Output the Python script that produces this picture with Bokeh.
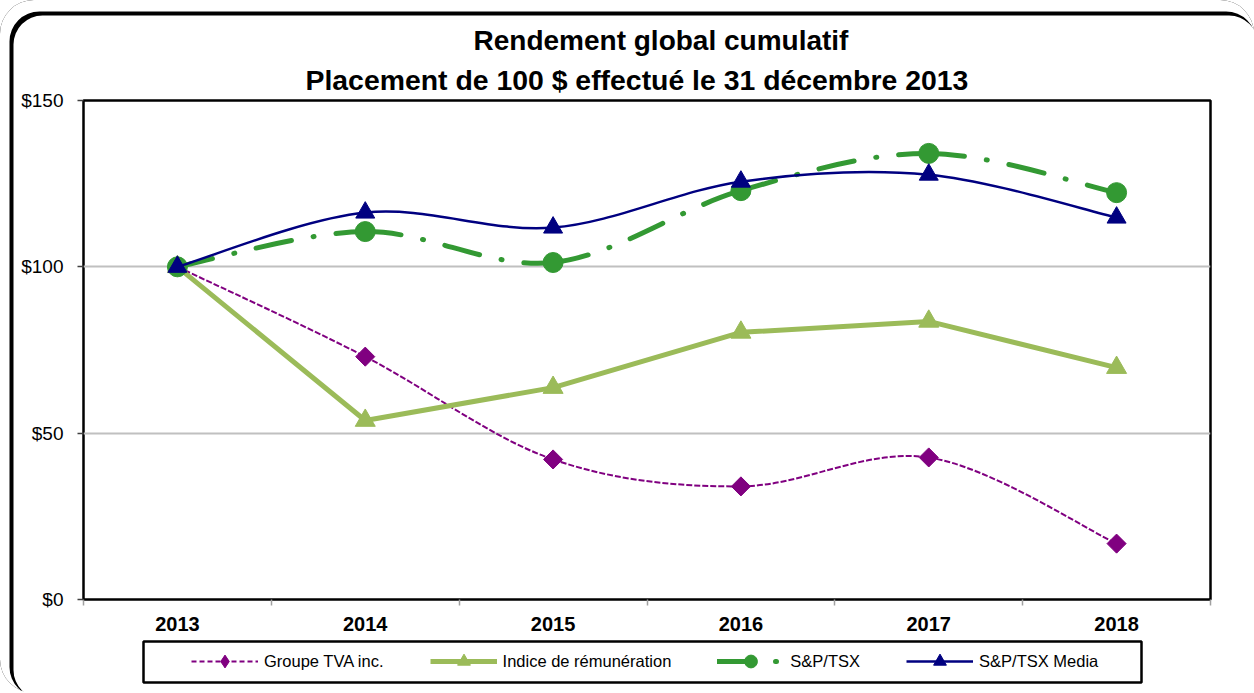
import numpy as np
from bokeh.plotting import figure
from bokeh.layouts import column
from bokeh.models import (Range1d, FixedTicker, NumeralTickFormatter, Title, Legend,
                          LegendItem, ColumnDataSource)
from bokeh.embed import file_html
from bokeh.resources import INLINE

# ---------------- data ----------------
years = ["2013", "2014", "2015", "2016", "2017", "2018"]
groupe_tva = [100, 73.0, 42.1, 34.0, 42.7, 16.8]
indice_remuneration = [100, 53.8, 63.7, 80.3, 83.6, 69.7]
sp_tsx = [100, 110.6, 101.3, 122.9, 134.1, 122.3]
sp_tsx_media = [100, 116.3, 111.8, 125.6, 127.7, 114.8]
y_ticks = [0, 50, 100, 150]
series_names = ["Groupe TVA inc.", "Indice de rémunération", "S&P/TSX", "S&P/TSX Media"]
title_line1 = "Rendement global cumulatif"
title_line2 = "Placement de 100 $ effectué le 31 décembre 2013"

x = [int(y) for y in years]
FONT = "Liberation Sans"

# series styles
C_TVA, C_IND, C_TSX, C_MED = "#800080", "#9BBB59", "#339933", "#000080"
TSX_DASH = "36 22 1 22"


def smooth_source(xs, ys):
    """Excel-like smoothed line: one cubic Bezier per segment (Catmull-Rom control points)."""
    n = len(xs)
    d = dict(x0=[], y0=[], x1=[], y1=[], cx0=[], cy0=[], cx1=[], cy1=[])
    for i in range(n - 1):
        a = max(i - 1, 0)
        b = min(i + 2, n - 1)
        d["x0"].append(xs[i]); d["y0"].append(ys[i])
        d["x1"].append(xs[i + 1]); d["y1"].append(ys[i + 1])
        d["cx0"].append(xs[i] + (xs[i + 1] - xs[a]) / 6)
        d["cy0"].append(ys[i] + (ys[i + 1] - ys[a]) / 6)
        d["cx1"].append(xs[i + 1] - (xs[b] - xs[i]) / 6)
        d["cy1"].append(ys[i + 1] - (ys[b] - ys[i]) / 6)
    return ColumnDataSource(d)


# ================= main chart =================
p = figure(width=1254, height=640,
           x_range=Range1d(2012.5, 2018.5), y_range=Range1d(0, 150),
           output_backend="svg", toolbar_location=None,
           min_border_left=83, min_border_right=44, min_border_top=100, min_border_bottom=41,
           background_fill_color="white", border_fill_color=None)
p.outline_line_color = "black"
p.outline_line_width = 2.5

# titles (the title added later sits closer to the plot frame)
p.title.text = title_line1
p.title.text_font = FONT
p.title.text_font_size = "28px"
p.title.text_font_style = "bold"
p.title.text_color = "black"
p.title.align = "left"
p.title.offset = 390
p.title.standoff = 4
t2 = Title(text=title_line2, text_font=FONT, text_font_size="28.4px", text_font_style="bold",
           text_color="black", align="left", offset=222, standoff=9)
p.add_layout(t2, "above")

# grid
p.xgrid.visible = False
p.ygrid.ticker = FixedTicker(ticks=y_ticks)
p.ygrid.grid_line_color = "#c0c0c0"
p.ygrid.grid_line_width = 2

# y axis
ya = p.yaxis[0]
ya.ticker = FixedTicker(ticks=y_ticks)
ya.formatter = NumeralTickFormatter(format="$0")
ya.axis_line_color = None
ya.major_tick_out = 6
ya.major_tick_in = 0
ya.minor_tick_out = 0
ya.minor_tick_in = 0
ya.major_tick_line_color = "#404040"
ya.major_tick_line_width = 1.5
ya.major_label_text_font = FONT
ya.major_label_text_font_size = "19px"
ya.major_label_text_color = "black"
ya.major_label_standoff = 14

# x axis
xa = p.xaxis[0]
xa.ticker = FixedTicker(ticks=x, minor_ticks=[v - 0.5 for v in x] + [x[-1] + 0.5])
xa.major_label_overrides = {v: s for v, s in zip(x, years)}
xa.axis_line_color = None
xa.major_tick_out = 0
xa.major_tick_in = 0
xa.major_tick_line_color = None
xa.minor_tick_out = 6
xa.minor_tick_in = 0
xa.minor_tick_line_color = "#a0a0a0"
xa.minor_tick_line_width = 1.5
xa.major_label_text_font = FONT
xa.major_label_text_font_size = "20px"
xa.major_label_text_font_style = "bold"
xa.major_label_text_color = "black"
xa.major_label_standoff = 11

# ---------------- series ----------------
s_tva = smooth_source(x, groupe_tva)
p.bezier("x0", "y0", "x1", "y1", "cx0", "cy0", "cx1", "cy1", source=s_tva,
         line_color=C_TVA, line_width=2, line_dash="6 2")
p.scatter(x, groupe_tva, marker="square", angle=np.pi / 4, size=13.5,
          fill_color=C_TVA, line_color=C_TVA)

p.line(x, indice_remuneration, line_color=C_IND, line_width=5)
p.scatter(x, indice_remuneration, marker="triangle", size=20,
          fill_color=C_IND, line_color=C_IND)

s_tsx = smooth_source(x, sp_tsx)
p.bezier("x0", "y0", "x1", "y1", "cx0", "cy0", "cx1", "cy1", source=s_tsx,
         line_color=C_TSX, line_width=5, line_dash=TSX_DASH, line_cap="round")
p.scatter(x, sp_tsx, marker="circle", size=20, fill_color=C_TSX, line_color=C_TSX)

s_med = smooth_source(x, sp_tsx_media)
p.bezier("x0", "y0", "x1", "y1", "cx0", "cy0", "cx1", "cy1", source=s_med,
         line_color=C_MED, line_width=2.5)
p.scatter(x, sp_tsx_media, marker="triangle", size=19, fill_color=C_MED, line_color=C_MED)

# ================= legend strip (its frame is the legend box) =================
pl = figure(width=1254, height=53, x_range=Range1d(0, 1), y_range=Range1d(0, 1),
            output_backend="svg", toolbar_location=None,
            min_border_left=143, min_border_right=113, min_border_top=1, min_border_bottom=11,
            background_fill_color="white", border_fill_color=None)
pl.axis.visible = False
pl.grid.visible = False
pl.outline_line_color = "black"
pl.outline_line_width = 2.5

nan = [np.nan]  # legend-only renderers: nothing is drawn in the strip itself
lg = []
lg.append([pl.line(nan, nan, line_color=C_TVA, line_width=2, line_dash="5 3"),
           pl.scatter(nan, nan, marker="diamond", size=14, fill_color=C_TVA, line_color=C_TVA)])
lg.append([pl.line(nan, nan, line_color=C_IND, line_width=5),
           pl.scatter(nan, nan, marker="triangle", size=12, fill_color=C_IND, line_color=C_IND)])
lg.append([pl.line(nan, nan, line_color=C_TSX, line_width=5, line_dash=TSX_DASH, line_cap="round"),
           pl.scatter(nan, nan, marker="circle", size=12, fill_color=C_TSX, line_color=C_TSX)])
lg.append([pl.line(nan, nan, line_color=C_MED, line_width=2.5),
           pl.scatter(nan, nan, marker="triangle", size=12, fill_color=C_MED, line_color=C_MED)])

legend = Legend(items=[LegendItem(label=n, renderers=r) for n, r in zip(series_names, lg)],
                orientation="horizontal", location=(48, 5),
                label_text_font=FONT, label_text_font_size="16.5px", label_text_color="black",
                glyph_width=67, glyph_height=32, label_standoff=6, spacing=46, padding=0,
                border_line_color=None, background_fill_alpha=0, margin=0)
pl.add_layout(legend)

layout = column(p, column(pl, spacing=0), spacing=0)
# outer rounded chart border (CSS inset shadows behind the transparent canvases)
layout.styles = {
    "border-radius": "33.75px",
    "background-color": "white",
    "box-shadow": "inset 5.75px 7.75px 0 3.75px white, inset 8.75px 10.75px 0 4.75px black",
}

open("out.html", "w").write(file_html(layout, INLINE))
